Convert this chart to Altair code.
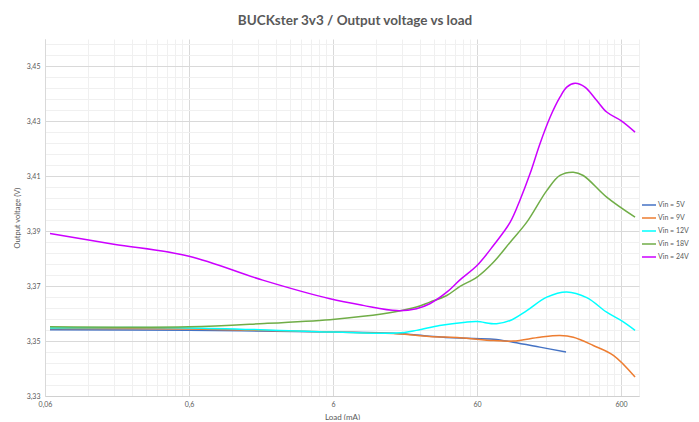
import altair as alt
import pandas as pd

# ---- data ----
x_5v = [0.065, 0.6, 6, 16.6, 28, 45.7, 78, 107, 164, 249]
y_5v = [3.3541, 3.3539, 3.3533, 3.3528, 3.3518, 3.3511, 3.3507, 3.3496, 3.3478, 3.3460]

x_9v = [0.065, 0.6, 6, 16.6, 28, 45.7, 78, 107, 164, 226, 280, 385, 531, 751]
y_9v = [3.3546, 3.3544, 3.3533, 3.3527, 3.3517, 3.3512, 3.3502, 3.3500, 3.3514,
        3.3520, 3.3514, 3.3484, 3.3448, 3.3369]

x_12v = [0.065, 0.6, 6, 16.6, 22.8, 33, 50, 60, 82, 102, 133, 183, 252, 347, 477, 600, 751]
y_12v = [3.3548, 3.3548, 3.3533, 3.3529, 3.3539, 3.3557, 3.3569, 3.3571, 3.3563,
         3.3575, 3.3611, 3.3660, 3.3679, 3.3658, 3.3605, 3.3575, 3.3539]

x_18v = [0.065, 0.6, 2, 5.72, 9.7, 16.6, 22.8, 28.2, 37, 45.7, 60, 78, 102, 133,
         183, 226, 280, 328, 477, 751]
y_18v = [3.3552, 3.3552, 3.3564, 3.3578, 3.3590, 3.3608, 3.3624, 3.3642, 3.3666,
         3.3699, 3.3733, 3.3787, 3.3860, 3.3933, 3.4048, 3.4103, 3.4115, 3.4103,
         3.4024, 3.3951]

x_24v = [0.065, 0.18, 0.6, 1.95, 5.72, 9.7, 16.6, 22.8, 28.2, 37, 45.7, 60, 78, 102,
         119, 140, 164, 193, 226, 252, 288, 337, 407, 477, 600, 751]
y_24v = [3.3892, 3.3853, 3.3809, 3.3722, 3.3654, 3.3630, 3.3611, 3.3618, 3.3636,
         3.3678, 3.3723, 3.3775, 3.3848, 3.3933, 3.4012, 3.4109, 3.4218, 3.4315,
         3.4388, 3.4425, 3.4439, 3.4425, 3.4376, 3.4334, 3.4303, 3.4261]

series_names = ["Vin = 5V", "Vin = 9V", "Vin = 12V", "Vin = 18V", "Vin = 24V"]
series_colors = ["#4472C4", "#ED7D31", "#00FFFF", "#70AD47", "#CC00FF"]

x_major = [0.06, 0.6, 6, 60, 600]
x_grid = sorted(set([round(m * k, 4) for m in [0.06, 0.6, 6, 60] for k in range(1, 10)] + [600, 800]))
y_grid = [round(3.33 + 0.004 * i, 3) for i in range(33)]

rows = []
for name, xs, ys in zip(series_names,
                        [x_5v, x_9v, x_12v, x_18v, x_24v],
                        [y_5v, y_9v, y_12v, y_18v, y_24v]):
    for i, (a, b) in enumerate(zip(xs, ys)):
        rows.append({"series": name, "load": a, "vout": b, "order": i})
df = pd.DataFrame(rows)

GRAY = "#595959"
FONT = "Lato"

x_major_test = "indexof([0.06,0.6,6,60,600], datum.value) >= 0"
y_major_test = "abs((datum.value-3.33)*50 - round((datum.value-3.33)*50)) < 0.01"

chart = alt.Chart(df).mark_line(interpolate="catmull-rom", strokeWidth=1.5).encode(
    x=alt.X("load:Q",
            scale=alt.Scale(type="log", domain=[0.06, 800], nice=False),
            axis=alt.Axis(
                values=x_grid,
                title="Load (mA)",
                labelExpr=f"{x_major_test} ? replace(format(datum.value, '~g'), '.', ',') : ''",
                labelOverlap=False,
                labelFlush=False,
                ticks=False,
                labelFont=FONT, labelFontSize=7, labelColor=GRAY, labelPadding=4,
                titleFont=FONT, titleFontSize=8, titleFontWeight="normal", titleColor=GRAY,
                titlePadding=6,
                gridColor={"condition": {"test": x_major_test, "value": "#D9D9D9"}, "value": "#F0F0F0"},
                gridWidth=1,
                domainColor="#D0D0D0",
            )),
    y=alt.Y("vout:Q",
            scale=alt.Scale(domain=[3.33, 3.46], nice=False, zero=False),
            axis=alt.Axis(
                values=y_grid,
                title="Output voltage (V)",
                labelExpr=f"{y_major_test} ? replace(format(datum.value, '.2f'), '.', ',') : ''",
                labelOverlap=False,
                ticks=False,
                labelFont=FONT, labelFontSize=7, labelColor=GRAY, labelPadding=5,
                titleFont=FONT, titleFontSize=7.5, titleFontWeight="normal", titleColor=GRAY,
                titlePadding=5,
                gridColor={"condition": {"test": y_major_test, "value": "#D9D9D9"}, "value": "#F0F0F0"},
                gridWidth=1,
                domainColor="#D9D9D9",
            )),
    color=alt.Color("series:N",
                    scale=alt.Scale(domain=series_names, range=series_colors),
                    legend=alt.Legend(
                        title=None, orient="none", legendX=596, legendY=158,
                        symbolType="stroke", symbolSize=196, symbolStrokeWidth=1.5,
                        labelFont=FONT, labelFontSize=7, labelColor=GRAY,
                        labelOffset=1, rowPadding=2, padding=0, labelLimit=200,
                    )),
    order="order:Q",
).properties(
    width=594,
    height=357,
    autosize=alt.AutoSizeParams(type="none"),
    padding={"left": 37, "top": 31, "right": 52, "bottom": 24},
    title=alt.TitleParams(
        "BUCKster 3v3 / Output voltage vs load",
        font=FONT, fontSize=13.5, fontWeight="bold", color=GRAY,
        anchor="middle", dx=13, offset=12,
    ),
).configure_view(stroke=None)

chart.save("out.html", embed_options={"renderer": "svg", "actions": False})
